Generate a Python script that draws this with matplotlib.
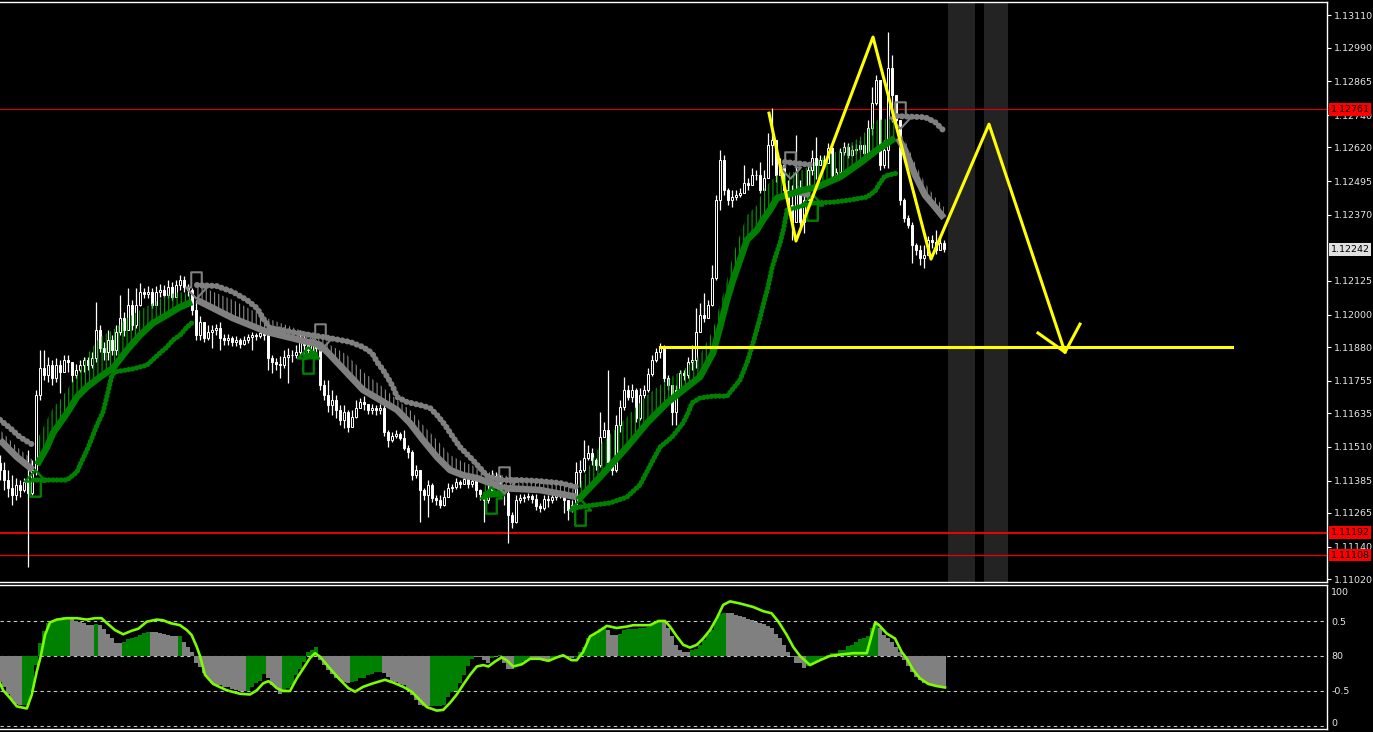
"""EURUSD-style MT4 chart: candles with trend bands/trail dots, yellow pattern
drawing, and an oscillator sub-window underneath.

    python plot.py   -> out.png
"""

import matplotlib
matplotlib.use("Agg")
import matplotlib.pyplot as plt
import numpy as np
from matplotlib.path import Path

# ---- candles (one bar per slot, oldest first) ----
first_open = 1.11450
closes = [
    1.11424, 1.11387, 1.11357, 1.11331, 1.11368, 1.11350, 1.11379, 1.11339, 1.11424, 1.11702,
    1.11802, 1.11776, 1.11813, 1.11765, 1.11813, 1.11788, 1.11832, 1.11825, 1.11776, 1.11795,
    1.11813, 1.11832, 1.11813, 1.11839, 1.11943, 1.11876, 1.11862, 1.11906, 1.11869, 1.11936,
    1.11987, 1.11943, 1.12036, 1.11962, 1.12036, 1.12084, 1.12076, 1.12084, 1.12036, 1.12084,
    1.12091, 1.12073, 1.12102, 1.12065, 1.12110, 1.12128, 1.12102, 1.12091, 1.12017, 1.11924,
    1.11973, 1.11913, 1.11936, 1.11943, 1.11950, 1.11913, 1.11906, 1.11913, 1.11899, 1.11906,
    1.11891, 1.11906, 1.11917, 1.11924, 1.11921, 1.11932, 1.11924, 1.11839, 1.11825, 1.11817,
    1.11813, 1.11843, 1.11851, 1.11851, 1.11862, 1.11906, 1.11888, 1.11869, 1.11888, 1.11876,
    1.11740, 1.11702, 1.11665, 1.11684, 1.11647, 1.11610, 1.11640, 1.11584, 1.11621, 1.11654,
    1.11677, 1.11669, 1.11647, 1.11654, 1.11647, 1.11654, 1.11566, 1.11535, 1.11551, 1.11558,
    1.11543, 1.11505, 1.11491, 1.11405, 1.11424, 1.11350, 1.11331, 1.11368, 1.11320, 1.11313,
    1.11294, 1.11324, 1.11357, 1.11361, 1.11379, 1.11372, 1.11391, 1.11372, 1.11383, 1.11350,
    1.11335, 1.11313, 1.11350, 1.11401, 1.11387, 1.11365, 1.11339, 1.11257, 1.11232, 1.11313,
    1.11320, 1.11324, 1.11327, 1.11316, 1.11291, 1.11283, 1.11316, 1.11313, 1.11324, 1.11331,
    1.11339, 1.11313, 1.11276, 1.11294, 1.11416, 1.11424, 1.11468, 1.11487, 1.11461, 1.11443,
    1.11546, 1.11573, 1.11454, 1.11424, 1.11591, 1.11658, 1.11721, 1.11695, 1.11721, 1.11617,
    1.11702, 1.11721, 1.11780, 1.11832, 1.11862, 1.11876, 1.11765, 1.11740, 1.11640, 1.11721,
    1.11784, 1.11776, 1.11825, 1.11832, 1.11936, 1.11999, 1.11987, 1.12036, 1.12135, 1.12425,
    1.12573, 1.12462, 1.12425, 1.12436, 1.12444, 1.12451, 1.12488, 1.12481, 1.12518, 1.12518,
    1.12462, 1.12506, 1.12629, 1.12647, 1.12518, 1.12555, 1.12462, 1.12406, 1.12344, 1.12462,
    1.12344, 1.12425, 1.12536, 1.12581, 1.12555, 1.12573, 1.12562, 1.12618, 1.12518, 1.12529,
    1.12603, 1.12621, 1.12592, 1.12610, 1.12614, 1.12629, 1.12599, 1.12692, 1.12784, 1.12870,
    1.12555, 1.12610, 1.12914, 1.12814, 1.12721, 1.12425, 1.12358, 1.12333, 1.12258, 1.12240,
    1.12210, 1.12221, 1.12277, 1.12269, 1.12240, 1.12266, 1.12242,
]
highs = [
    1.11480, 1.11454, 1.11424, 1.11405, 1.11394, 1.11387, 1.11394, 1.11498, 1.11461, 1.11721,
    1.11869, 1.11869, 1.11843, 1.11832, 1.11839, 1.11832, 1.11851, 1.11851, 1.11825, 1.11817,
    1.11832, 1.11843, 1.11843, 1.11862, 1.12047, 1.11962, 1.11899, 1.11943, 1.11924, 1.11962,
    1.12073, 1.12010, 1.12098, 1.12054, 1.12098, 1.12117, 1.12098, 1.12106, 1.12098, 1.12106,
    1.12113, 1.12110, 1.12128, 1.12121, 1.12128, 1.12147, 1.12143, 1.12113, 1.12098, 1.12054,
    1.11995, 1.11962, 1.11962, 1.11962, 1.11966, 1.11973, 1.11928, 1.11928, 1.11921, 1.11921,
    1.11913, 1.11921, 1.11928, 1.11936, 1.11932, 1.11943, 1.11943, 1.11943, 1.11851, 1.11839,
    1.11846, 1.11869, 1.11876, 1.11869, 1.11888, 1.11943, 1.11924, 1.11906, 1.11913, 1.11906,
    1.11888, 1.11758, 1.11758, 1.11721, 1.11702, 1.11665, 1.11665, 1.11647, 1.11647, 1.11684,
    1.11691, 1.11699, 1.11669, 1.11669, 1.11665, 1.11669, 1.11665, 1.11573, 1.11566, 1.11573,
    1.11566, 1.11573, 1.11517, 1.11498, 1.11443, 1.11424, 1.11357, 1.11387, 1.11376, 1.11331,
    1.11331, 1.11350, 1.11376, 1.11372, 1.11394, 1.11387, 1.11401, 1.11387, 1.11394, 1.11394,
    1.11354, 1.11343, 1.11376, 1.11424, 1.11416, 1.11405, 1.11372, 1.11350, 1.11269, 1.11331,
    1.11335, 1.11335, 1.11339, 1.11335, 1.11335, 1.11302, 1.11331, 1.11331, 1.11339, 1.11343,
    1.11350, 1.11350, 1.11313, 1.11313, 1.11454, 1.11461, 1.11535, 1.11517, 1.11505, 1.11468,
    1.11639, 1.11603, 1.11795, 1.11461, 1.11628, 1.11684, 1.11769, 1.11740, 1.11743, 1.11728,
    1.11728, 1.11740, 1.11802, 1.11851, 1.11876, 1.11895, 1.11888, 1.11776, 1.11740, 1.11740,
    1.11795, 1.11795, 1.11843, 1.11888, 1.12024, 1.12043, 1.12080, 1.12054, 1.12184, 1.12444,
    1.12610, 1.12592, 1.12469, 1.12462, 1.12462, 1.12469, 1.12555, 1.12506, 1.12543, 1.12536,
    1.12566, 1.12536, 1.12673, 1.12766, 1.12647, 1.12581, 1.12555, 1.12499, 1.12481, 1.12666,
    1.12499, 1.12462, 1.12555, 1.12610, 1.12658, 1.12592, 1.12592, 1.12636, 1.12625, 1.12543,
    1.12618, 1.12640, 1.12636, 1.12629, 1.12632, 1.12647, 1.12636, 1.12721, 1.12844, 1.12888,
    1.12840, 1.12647, 1.13047, 1.12962, 1.12777, 1.12721, 1.12432, 1.12369, 1.12344, 1.12266,
    1.12258, 1.12258, 1.12291, 1.12295, 1.12314, 1.12284, 1.12277,
]
lows = [
    1.11387, 1.11350, 1.11324, 1.11294, 1.11313, 1.11324, 1.11343, 1.11065, 1.11331, 1.11405,
    1.11684, 1.11758, 1.11751, 1.11740, 1.11751, 1.11710, 1.11795, 1.11788, 1.11751, 1.11765,
    1.11788, 1.11788, 1.11795, 1.11802, 1.11825, 1.11862, 1.11832, 1.11832, 1.11851, 1.11851,
    1.11924, 1.11921, 1.11943, 1.11943, 1.11950, 1.12032, 1.12061, 1.12061, 1.12024, 1.12065,
    1.12065, 1.12061, 1.12061, 1.12054, 1.12084, 1.12091, 1.12084, 1.12069, 1.11999, 1.11906,
    1.11906, 1.11899, 1.11906, 1.11876, 1.11924, 1.11869, 1.11888, 1.11888, 1.11884, 1.11884,
    1.11876, 1.11888, 1.11895, 1.11869, 1.11906, 1.11913, 1.11906, 1.11795, 1.11784, 1.11795,
    1.11765, 1.11802, 1.11747, 1.11825, 1.11839, 1.11839, 1.11851, 1.11846, 1.11851, 1.11858,
    1.11721, 1.11684, 1.11640, 1.11628, 1.11617, 1.11591, 1.11580, 1.11566, 1.11610, 1.11617,
    1.11654, 1.11647, 1.11632, 1.11632, 1.11628, 1.11632, 1.11551, 1.11509, 1.11528, 1.11543,
    1.11535, 1.11498, 1.11468, 1.11387, 1.11394, 1.11232, 1.11313, 1.11250, 1.11306, 1.11294,
    1.11283, 1.11291, 1.11331, 1.11343, 1.11354, 1.11357, 1.11372, 1.11357, 1.11361, 1.11324,
    1.11313, 1.11232, 1.11302, 1.11343, 1.11361, 1.11350, 1.11294, 1.11154, 1.11209, 1.11228,
    1.11302, 1.11306, 1.11313, 1.11302, 1.11276, 1.11269, 1.11276, 1.11287, 1.11302, 1.11313,
    1.11320, 1.11265, 1.11239, 1.11269, 1.11283, 1.11361, 1.11416, 1.11461, 1.11443, 1.11424,
    1.11435, 1.11546, 1.11439, 1.11405, 1.11416, 1.11566, 1.11647, 1.11684, 1.11677, 1.11603,
    1.11610, 1.11691, 1.11713, 1.11773, 1.11825, 1.11839, 1.11751, 1.11721, 1.11591, 1.11591,
    1.11721, 1.11758, 1.11765, 1.11795, 1.11802, 1.11936, 1.11973, 1.11995, 1.12032, 1.12128,
    1.12388, 1.12444, 1.12406, 1.12399, 1.12425, 1.12436, 1.12462, 1.12462, 1.12488, 1.12499,
    1.12451, 1.12469, 1.12529, 1.12555, 1.12492, 1.12529, 1.12444, 1.12388, 1.12277, 1.12406,
    1.12330, 1.12303, 1.12425, 1.12518, 1.12502, 1.12555, 1.12543, 1.12562, 1.12506, 1.12514,
    1.12518, 1.12592, 1.12581, 1.12588, 1.12595, 1.12603, 1.12588, 1.12592, 1.12666, 1.12777,
    1.12536, 1.12543, 1.12543, 1.12714, 1.12703, 1.12406, 1.12344, 1.12322, 1.12191, 1.12221,
    1.12184, 1.12173, 1.12251, 1.12247, 1.12225, 1.12240, 1.12233,
]

# ---- trend indicator: (bar, price) vertices per segment ----
gray_dots = [
    ([0, 2.5, 5, 8.25], [1.11610, 1.11580, 1.11546, 1.11517]),
    ([49.25, 54.25, 58.25, 61.75, 64.25, 65.75, 67.5, 70.75, 74.25, 79.25, 82.5, 87.5,
      90.75, 93, 94.25, 95.75, 97, 98.25, 99.25, 101.75, 105, 107.5, 109.25, 111.25,
      113.25, 115, 117.5, 120, 121.75, 125, 130, 135, 140, 144.25],
     [1.12110, 1.12106, 1.12084, 1.12054, 1.12024, 1.11987, 1.11950, 1.11943, 1.11932,
      1.11921, 1.11913, 1.11899, 1.11880, 1.11858, 1.11825, 1.11795, 1.11765, 1.11732,
      1.11695, 1.11676, 1.11665, 1.11654, 1.11628, 1.11591, 1.11546, 1.11509, 1.11472,
      1.11432, 1.11402, 1.11387, 1.11387, 1.11383, 1.11376, 1.11361]),
    ([196.25, 203], [1.12566, 1.12555]),
    ([224.25, 231.25, 233.75, 236], [1.12736, 1.12732, 1.12714, 1.12681]),
]
# (bars, band price, tick-top price)
gray_band = [
    ([0, 4.25, 8.25], [1.11535, 1.11472, 1.11424], [1.11573, 1.11509, 1.11461]),
    ([49.25, 58.25, 66.75, 75, 80, 82.5, 86.75, 90.75, 95, 99.25, 102.5, 105.75, 109.25,
      112.5, 115.75, 119.25, 121.75, 125.75, 135, 144.25],
     [1.12054, 1.11987, 1.11936, 1.11906, 1.11888, 1.11851, 1.11784, 1.11721, 1.11684,
      1.11647, 1.11598, 1.11535, 1.11472, 1.11424, 1.11405, 1.11394, 1.11380, 1.11357,
      1.11350, 1.11324],
     [1.12110, 1.12054, 1.11987, 1.11943, 1.11924, 1.11888, 1.11851, 1.11788, 1.11740,
      1.11684, 1.11647, 1.11591, 1.11535, 1.11480, 1.11454, 1.11435, 1.11417, 1.11405,
      1.11380, 1.11361]),
    ([199, 202.5], [1.12458, 1.12443], [1.12480, 1.12465]),
    ([224.5, 226.25, 228.75, 231.25, 233.75, 236],
     [1.12655, 1.12610, 1.12518, 1.12443, 1.12399, 1.12358],
     [1.12684, 1.12647, 1.12562, 1.12488, 1.12436, 1.12399]),
]
green_band = [
    ([9.25, 11.75, 13.25, 15, 16.75, 19.25, 21.75, 25, 28.25, 31.75, 35, 38.25, 41.75, 45, 48],
     [1.11443, 1.11509, 1.11561, 1.11598, 1.11635, 1.11695, 1.11732, 1.11769, 1.11802,
      1.11869, 1.11924, 1.11969, 1.11999, 1.12028, 1.12047],
     [1.11535, 1.11610, 1.11654, 1.11684, 1.11721, 1.11776, 1.11851, 1.11917, 1.11943,
      1.11987, 1.12017, 1.12043, 1.12073, 1.12084, 1.12073]),
    ([75.75, 79.5], [1.11843, 1.11851], [1.11880, 1.11880]),
    ([120.75, 126.25], [1.11331, 1.11339], [1.11368, 1.11376]),
    ([144.5, 150, 156.75, 161.75, 166.75, 171.75, 175, 178.25, 180, 181.75, 183.25, 185,
      186.75, 189.25, 190.75, 192.5, 194.25, 200.75, 204.25, 210, 215, 219.25, 223.75],
     [1.11313, 1.11398, 1.11509, 1.11598, 1.11673, 1.11732, 1.11769, 1.11858, 1.11954,
      1.12054, 1.12128, 1.12202, 1.12277, 1.12314, 1.12351, 1.12388, 1.12432, 1.12462,
      1.12473, 1.12510, 1.12562, 1.12610, 1.12655],
     [1.11357, 1.11517, 1.11621, 1.11702, 1.11758, 1.11806, 1.11851, 1.11943, 1.12036,
      1.12128, 1.12221, 1.12295, 1.12369, 1.12406, 1.12462, 1.12492, 1.12518, 1.12536,
      1.12573, 1.12610, 1.12658, 1.12721, 1.12729]),
]
green_dots = [
    ([8.25, 16.75, 19.25, 20, 22, 24.25, 25.75, 27, 28, 28.75, 33.25, 36.75, 40, 41.75,
      43.25, 45, 46.75, 48.25],
     [1.11387, 1.11387, 1.11417, 1.11443, 1.11506, 1.11591, 1.11639, 1.11713, 1.11776,
      1.11788, 1.11799, 1.11813, 1.11858, 1.11880, 1.11906, 1.11924, 1.11954, 1.11973]),
    ([143.25, 148.25, 152.5, 156.75, 160, 163, 165, 168, 170.75, 172, 173, 175, 178.25,
      181.75, 183, 185, 187, 188.25, 190, 191, 192, 193, 194, 195, 196, 196.75, 203.25,
      208.25, 212.5, 216.75, 218.75, 220, 221.25, 224.25],
     [1.11283, 1.11294, 1.11302, 1.11324, 1.11369, 1.11454, 1.11509, 1.11546, 1.11598,
      1.11635, 1.11673, 1.11691, 1.11698, 1.11698, 1.11721, 1.11758, 1.11832, 1.11895,
      1.11987, 1.12047, 1.12102, 1.12173, 1.12221, 1.12265, 1.12325, 1.12388, 1.12414,
      1.12417, 1.12425, 1.12436, 1.12458, 1.12488, 1.12514, 1.12525]),
]
signal_up_bar = [8.75, 77, 122.75, 145, 203]
signal_up_price = [1.11376, 1.11832, 1.11313, 1.11269, 1.12399]
signal_dn_bar = [49, 80, 126, 197.5, 225]
signal_dn_price = [1.12110, 1.11917, 1.11387, 1.12555, 1.12740]

# ---- manual drawings ----
zigzag_bar = [192.25, 199, 218.25, 232.75, 247.25, 266.25]
zigzag_price = [1.12747, 1.12273, 1.13029, 1.12206, 1.12706, 1.11861]
arrowhead_bar = [259.5, 266.25, 270]
arrowhead_price = [1.11932, 1.11861, 1.11965]
neckline_bar = [165, 308]
neckline_price = 1.11880
shade_spans = [(237, 243.75), (246, 252)]
red_levels = [1.12761, 1.11192, 1.11108]
bid_price = 1.12242

price_ticks = [1.13110, 1.12990, 1.12865, 1.12740, 1.12620, 1.12495, 1.12370, 1.12125,
               1.12000, 1.11880, 1.11755, 1.11635, 1.11510, 1.11385, 1.11265, 1.11140, 1.11020]

# ---- oscillator ----
osc_hist = [
    -0.37, -0.45, -0.55, -0.63, -0.69, -0.70, -0.70, -0.70, -0.51, -0.13,
    0.18, 0.35, 0.47, 0.49, 0.52, 0.53, 0.55, 0.55, 0.54, 0.50,
    0.49, 0.47, 0.44, 0.44, 0.46, 0.44, 0.38, 0.32, 0.25, 0.18,
    0.18, 0.20, 0.24, 0.25, 0.27, 0.30, 0.33, 0.34, 0.34, 0.34,
    0.33, 0.31, 0.30, 0.29, 0.29, 0.29, 0.20, 0.13, 0.06, -0.10,
    -0.16, -0.25, -0.32, -0.39, -0.41, -0.42, -0.44, -0.45, -0.47, -0.48,
    -0.50, -0.50, -0.50, -0.44, -0.38, -0.36, -0.26, -0.32, -0.41, -0.44,
    -0.55, -0.51, -0.46, -0.42, -0.27, -0.18, -0.08, 0.06, 0.09, 0.13,
    -0.06, -0.13, -0.20, -0.26, -0.31, -0.35, -0.37, -0.39, -0.37, -0.36,
    -0.32, -0.31, -0.27, -0.26, -0.23, -0.23, -0.25, -0.30, -0.36, -0.37,
    -0.40, -0.42, -0.49, -0.56, -0.63, -0.70, -0.72, -0.72, -0.72, -0.72,
    -0.72, -0.70, -0.58, -0.52, -0.50, -0.39, -0.27, -0.15, -0.05, -0.02,
    -0.02, -0.06, -0.10, -0.03, -0.01, 0.02, -0.10, -0.18, -0.18, -0.15,
    -0.13, -0.07, -0.05, -0.04, -0.04, -0.05, -0.07, -0.07, -0.05, -0.01,
    0.01, 0.01, -0.02, -0.03, -0.02, 0.05, 0.13, 0.25, 0.30, 0.32,
    0.38, 0.42, 0.37, 0.30, 0.30, 0.32, 0.37, 0.38, 0.38, 0.39,
    0.40, 0.40, 0.41, 0.46, 0.48, 0.51, 0.49, 0.40, 0.28, 0.16,
    0.09, 0.05, 0.05, 0.09, 0.10, 0.16, 0.23, 0.32, 0.37, 0.51,
    0.60, 0.62, 0.62, 0.61, 0.59, 0.57, 0.55, 0.53, 0.52, 0.49,
    0.47, 0.45, 0.43, 0.40, 0.32, 0.25, 0.16, 0.06, -0.01, -0.10,
    -0.10, -0.17, -0.14, -0.12, -0.08, -0.04, -0.02, 0.02, 0.04, 0.04,
    0.08, 0.09, 0.14, 0.16, 0.20, 0.24, 0.26, 0.29, 0.40, 0.48,
    0.40, 0.30, 0.26, 0.20, 0.13, 0.05, -0.06, -0.15, -0.23, -0.30,
    -0.34, -0.38, -0.40, -0.41, -0.42, -0.44, -0.44,
]
# colour runs over the histogram bars
osc_runs = [("gray", 6), ("green", 12), ("gray", 6), ("green", 1), ("gray", 6), ("green", 7),
            ("gray", 7), ("green", 1), ("gray", 16), ("green", 5), ("gray", 4), ("green", 9),
            ("gray", 8), ("green", 8), ("gray", 12), ("green", 11), ("gray", 4), ("green", 1),
            ("gray", 1), ("green", 1), ("gray", 3), ("green", 4), ("gray", 5), ("green", 4),
            ("gray", 2), ("green", 8), ("gray", 3), ("green", 11), ("gray", 7), ("green", 9),
            ("gray", 20), ("green", 18), ("gray", 17)]
osc_line_bar = [
    0, 0.8, 2.5, 4.2, 6.7, 7.9, 9.2, 10.2, 11.25, 12.5, 14.2, 16.7, 19.2, 21.7, 23.75, 25.4,
    26.7, 28.75, 30.8, 32.9, 34.6, 36.7, 39.2, 40.8, 42.5, 45, 46.7, 47.9, 49.2, 50, 51.25,
    53.3, 56.7, 60, 62.5, 64.2, 65.8, 67.1, 67.9, 69.2, 70.8, 72.5, 74.2, 75.8, 77.5, 78.75,
    80, 82.5, 85, 87.1, 88.75, 90.8, 93.3, 96.25, 98.3, 100.8, 102.9, 105, 106.7, 109.2,
    110.8, 112.5, 114.2, 115.8, 117.5, 119.2, 120.8, 122.1, 123.75, 125.4, 126.7, 128.3,
    130.4, 132.5, 135, 137.1, 139.2, 140.8, 142.9, 144.2, 145.8, 147.5, 149.6, 151.7, 154.2,
    156.7, 158.3, 162.5, 164.6, 166.25, 167.5, 169.2, 170.8, 172.5, 174.2, 175.8, 177.5,
    179.2, 180.8, 182.5, 185, 188.3, 190.8, 192.9, 194.6, 196.7, 198.3, 200, 202.5, 205,
    207.5, 210, 213.3, 216.7, 218.75, 219.6, 221.7, 223.75, 225.4, 226.7, 228.3, 230, 232.1,
    234.2, 236.25,
]
osc_line_val = [
    -0.39, -0.49, -0.60, -0.72, -0.75, -0.56, -0.22, 0.0, 0.30, 0.48, 0.52, 0.54, 0.54, 0.52,
    0.54, 0.54, 0.47, 0.37, 0.31, 0.36, 0.39, 0.49, 0.52, 0.51, 0.47, 0.44, 0.37, 0.30, 0.13,
    0.0, -0.27, -0.40, -0.49, -0.54, -0.55, -0.49, -0.39, -0.36, -0.39, -0.46, -0.50, -0.50,
    -0.32, -0.18, -0.03, 0.04, -0.01, -0.18, -0.34, -0.46, -0.51, -0.44, -0.39, -0.34, -0.38,
    -0.44, -0.51, -0.63, -0.73, -0.78, -0.77, -0.67, -0.55, -0.41, -0.27, -0.15, -0.13,
    -0.15, -0.08, -0.02, -0.06, -0.15, -0.12, -0.04, -0.04, -0.07, -0.02, 0.01, -0.06, -0.06,
    0.06, 0.28, 0.35, 0.43, 0.40, 0.42, 0.44, 0.44, 0.50, 0.50, 0.42, 0.28, 0.16, 0.12, 0.16,
    0.25, 0.37, 0.54, 0.73, 0.78, 0.75, 0.70, 0.64, 0.61, 0.49, 0.30, 0.13, 0.0, -0.13,
    -0.06, 0.0, 0.02, 0.04, 0.04, 0.47, 0.45, 0.32, 0.25, 0.06, -0.04, -0.20, -0.32, -0.40,
    -0.43, -0.45,
]
osc_levels = [0.5, 0.0, -0.5, -1.0]
osc_label_pos = [0.915, 0.49, 0.0, -0.5, -0.955]
osc_label_txt = ["100", "0.5", "80", "-0.5", "0"]

GRAY = "#808080"
GREEN = "#008000"
TEXT = "#e6e6e6"

plt.rcParams["hatch.linewidth"] = 0.8

W, H = 1373, 732
fig = plt.figure(figsize=(W / 100, H / 100), dpi=100, facecolor="black")
ax = fig.add_axes([0, 1 - 582 / H, 1327 / W, 580 / H], facecolor="black")
osc = fig.add_axes([0, 1 - 729 / H, 1327 / W, 144 / H], facecolor="black")

x_max = 1327 / 4
for a in (ax, osc):
    a.set_xlim(0, x_max)
    a.set_xticks([])
    for side in ("top", "right", "bottom"):
        a.spines[side].set_color("white")
        a.spines[side].set_linewidth(1.0)
    a.spines["left"].set_visible(False)
    a.yaxis.tick_right()

ax.set_ylim(1.11009, 1.13159)
osc.set_ylim(-1.043, 1.014)

# future shading and horizontal levels
for lo_b, hi_b in shade_spans:
    ax.axvspan(lo_b, hi_b, color="#232323", zorder=0.5, lw=0)
ax.axhline(red_levels[0], color="#dd0000", lw=0.8, zorder=1)
ax.axhline(red_levels[1], color="#ff0000", lw=1.3, zorder=1)
ax.axhline(red_levels[2], color="#ee0000", lw=0.9, zorder=1)

# candles
c = np.array(closes)
o = np.concatenate([[first_open], c[:-1]])
bx = np.arange(len(c))
top = np.maximum(o, c)
bot = np.minimum(o, c)
hi = np.maximum(highs, top)
lo = np.minimum(lows, bot)
ax.vlines(bx, lo, hi, color="white", lw=0.9, zorder=3)
up = c >= o
ax.bar(bx[up], (top - bot)[up], bottom=bot[up], width=0.7, color="black",
       edgecolor="white", linewidth=0.7, zorder=3.5)
ax.bar(bx[~up], (top - bot)[~up], bottom=bot[~up], width=0.7, color="white",
       edgecolor="white", linewidth=0.7, zorder=3.5)

# trend bands with their tick fringe
for band, color, tick_color in ((gray_band, GRAY, "#8c8c8c"), (green_band, GREEN, "#00a000")):
    for xs, ys, tips in band:
        ax.fill_between(xs, ys, tips, facecolor="none", edgecolor=tick_color,
                        linewidth=0, hatch="||||", zorder=4)
        ax.plot(xs, ys, color=color, lw=4.8, solid_capstyle="butt", zorder=4.2)

for xs, ys in gray_dots:
    ax.plot(xs, ys, color=GRAY, lw=4.4, linestyle=(0, (0.01, 0.8)),
            dash_capstyle="round", zorder=4.4)
for xs, ys in green_dots:
    ax.plot(xs, ys, color=GREEN, lw=0.9, zorder=4.3)
    ax.plot(xs, ys, color=GREEN, lw=3.8, linestyle=(0, (0.01, 0.75)),
            dash_capstyle="round", zorder=4.4)

# signal arrows (hollow)
up_arrow = Path([(0, 1), (0.8, 0.15), (0.4, 0.15), (0.4, -1), (-0.4, -1), (-0.4, 0.15),
                 (-0.8, 0.15), (0, 1)],
                [Path.MOVETO] + [Path.LINETO] * 6 + [Path.CLOSEPOLY])
dn_arrow = Path(up_arrow.vertices * [1, -1], up_arrow.codes)
ax.plot(signal_up_bar, signal_up_price, ls="none", marker=up_arrow, markersize=19,
        markerfacecolor="none", markeredgecolor=GREEN, markeredgewidth=1.7, zorder=5)
ax.plot(signal_dn_bar, signal_dn_price, ls="none", marker=dn_arrow, markersize=19,
        markerfacecolor="none", markeredgecolor=GRAY, markeredgewidth=1.5, zorder=5)

# yellow pattern drawing
ax.plot(zigzag_bar, zigzag_price, color="#ffff00", lw=2.2, zorder=6)
ax.plot(arrowhead_bar, arrowhead_price, color="#ffff00", lw=2.2, zorder=6)
ax.plot(neckline_bar, [neckline_price] * 2, color="#ffff00", lw=2.2, zorder=6)

# price scale
ax.set_yticks(price_ticks)
ax.set_yticklabels([f"{t:.5f}" for t in price_ticks])
ax.tick_params(axis="y", colors="white", labelcolor=TEXT, length=3, width=0.8,
               pad=2, labelsize=6.8, direction="out")
box_x = 1.0028
for lvl in red_levels:
    ax.text(box_x, lvl, f"{lvl:.5f}", transform=ax.get_yaxis_transform(), ha="left",
            va="center", fontsize=6.8, color="black", clip_on=False, zorder=10,
            bbox=dict(boxstyle="square,pad=0.18", fc="#ff0000", ec="none"))
ax.text(box_x, bid_price, f"{bid_price:.5f}", transform=ax.get_yaxis_transform(),
        ha="left", va="center", fontsize=6.8, color="black", clip_on=False, zorder=10,
        bbox=dict(boxstyle="square,pad=0.18", fc="#e0e0e0", ec="none"))

# oscillator window
cols = []
for name, n in osc_runs:
    cols += [GRAY if name == "gray" else GREEN] * n
osc.bar(np.arange(len(osc_hist)), osc_hist, width=1.0, color=cols, linewidth=0, zorder=2)
for lvl in osc_levels:
    osc.axhline(lvl, color="#c8c8c8", lw=0.8, linestyle=(0, (3, 3)), zorder=1)
osc.plot(osc_line_bar, osc_line_val, color="#7cfc00", lw=1.9, zorder=3)
osc.set_yticks(osc_label_pos)
osc.set_yticklabels(osc_label_txt)
osc.tick_params(axis="y", colors="white", labelcolor=TEXT, length=0, pad=3,
                labelsize=6.8)

fig.savefig("out.png", dpi=100, facecolor="black")
